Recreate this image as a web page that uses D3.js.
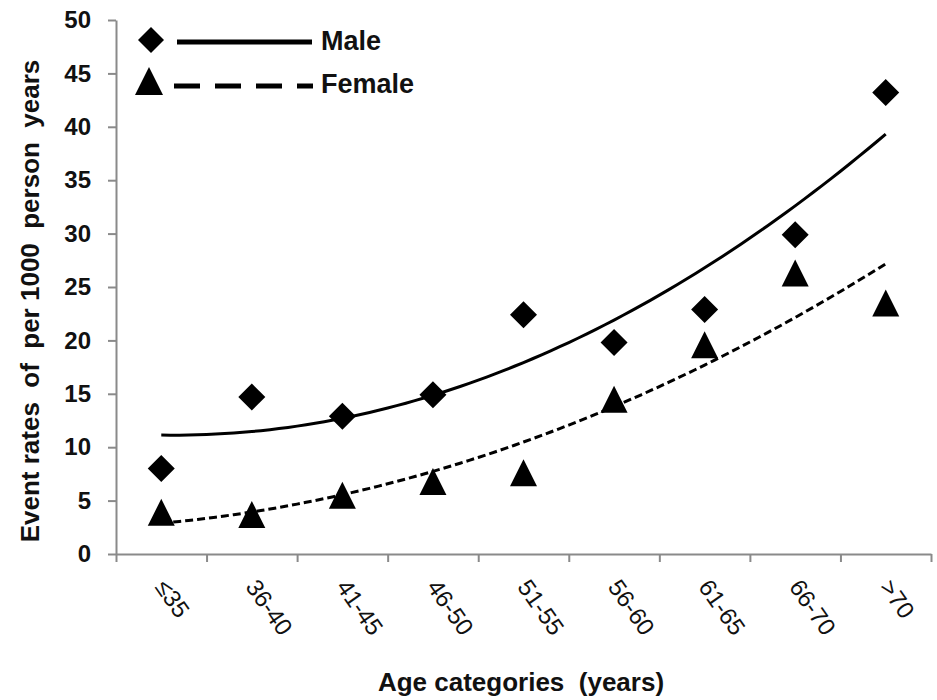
<!DOCTYPE html>
<html lang="en">

<head>
    <meta charset="UTF-8">
    <title>Event rates by age category</title>
    <script src="https://d3js.org/d3.v7.min.js"></script>
    <style>
        body { margin: 0; background: #fff; }
        text { font-family: "Liberation Sans", Arial, sans-serif; font-weight: bold; fill: #111; }
        .axis path, .axis line { stroke: #8a8a8a; stroke-width: 2; }
        .axis text { font-size: 24px; fill: #111; font-family: "Liberation Sans", Arial, sans-serif; font-weight: bold; }
        .cat { font-weight: normal; }
        .title { font-size: 26px; white-space: pre; }
    </style>
</head>

<body>
    <script>
        const w = 937; // width of the svg
        const h = 700; // height of the svg

        // data
        const categories = ["≤35", "36-40", "41-45", "46-50", "51-55", "56-60", "61-65", "66-70", ">70"];
        const maleRates = [8.0, 14.7, 12.9, 14.9, 22.4, 19.8, 22.9, 29.9, 43.2];
        const femaleRates = [3.9, 3.7, 5.5, 6.8, 7.6, 14.5, 19.6, 26.3, 23.5];
        const yTicks = [0, 5, 10, 15, 20, 25, 30, 35, 40, 45, 50];

        // scales: x runs over category slots, ticks sit on the slot borders
        const x = d3.scaleLinear()
            .domain([0, categories.length])
            .range([116, 931]);

        const y = d3.scaleLinear()
            .domain([0, 50])
            .range([554, 20]);

        const svg = d3.select("body")
            .append("svg")
            .attr("width", w)
            .attr("height", h);

        // 2nd order polynomial trendline (least squares), like the spreadsheet one
        function polyFit2(ys) {
            const xs = ys.map((d, i) => i);
            let s = [0, 0, 0, 0, 0], t = [0, 0, 0];
            xs.forEach((xv, i) => {
                for (let k = 0; k < 5; k++) s[k] += Math.pow(xv, k);
                for (let k = 0; k < 3; k++) t[k] += Math.pow(xv, k) * ys[i];
            });
            // solve the 3x3 normal equations with Cramer's rule
            const m = [[s[0], s[1], s[2]], [s[1], s[2], s[3]], [s[2], s[3], s[4]]];
            const det = a => a[0][0] * (a[1][1] * a[2][2] - a[1][2] * a[2][1])
                - a[0][1] * (a[1][0] * a[2][2] - a[1][2] * a[2][0])
                + a[0][2] * (a[1][0] * a[2][1] - a[1][1] * a[2][0]);
            const d = det(m);
            const coef = [0, 1, 2].map(c => det(m.map((row, r) => row.map((v, j) => j === c ? t[r] : v))) / d);
            return xv => coef[0] + coef[1] * xv + coef[2] * xv * xv;
        }

        function trendPoints(ys) {
            const f = polyFit2(ys);
            return d3.range(0, ys.length - 1 + 0.001, 0.1).map(i => [i + 0.5, f(i)]);
        }

        const line = d3.line()
            .x(d => x(d[0]))
            .y(d => y(d[1]));

        // marker shapes
        const diamond = {
            draw(ctx, size) {
                const r = Math.sqrt(size) / 2;
                ctx.moveTo(0, -r); ctx.lineTo(r, 0); ctx.lineTo(0, r); ctx.lineTo(-r, 0); ctx.closePath();
            }
        };
        const triangle = {
            draw(ctx, size) {
                const r = Math.sqrt(size) / 2;
                ctx.moveTo(0, -r); ctx.lineTo(r, r); ctx.lineTo(-r, r); ctx.closePath();
            }
        };

        // Add y-axis
        svg.append("g")
            .attr("class", "axis")
            .attr("transform", "translate(116,0)")
            .call(d3.axisLeft(y).tickValues(yTicks).tickSize(8).tickSizeOuter(0).tickPadding(17));

        // Add x-axis (unlabelled ticks on the category borders)
        svg.append("g")
            .attr("class", "axis")
            .attr("transform", "translate(0,554)")
            .call(d3.axisBottom(x).tickValues(d3.range(0, categories.length + 1)).tickSize(8).tickSizeOuter(0).tickFormat(""));

        // rotated category labels
        svg.selectAll(".cat")
            .data(categories)
            .join("text")
            .attr("class", "cat")
            .attr("transform", (d, i) => `translate(${x(i + 0.5) - 7},587) rotate(55)`)
            .attr("font-size", 24)
            .text(d => d);

        // trendlines
        svg.append("path")
            .attr("d", line(trendPoints(maleRates)))
            .attr("fill", "none")
            .attr("stroke", "#000")
            .attr("stroke-width", 3);

        svg.append("path")
            .attr("d", line(trendPoints(femaleRates)))
            .attr("fill", "none")
            .attr("stroke", "#000")
            .attr("stroke-width", 3)
            .attr("stroke-dasharray", "8,4");

        // markers
        svg.selectAll(".male")
            .data(maleRates)
            .join("path")
            .attr("class", "male")
            .attr("transform", (d, i) => `translate(${x(i + 0.5)},${y(d)})`)
            .attr("d", d3.symbol().type(diamond).size(27 * 27))
            .attr("fill", "#000");

        svg.selectAll(".female")
            .data(femaleRates)
            .join("path")
            .attr("class", "female")
            .attr("transform", (d, i) => `translate(${x(i + 0.5)},${y(d)})`)
            .attr("d", d3.symbol().type(triangle).size(27 * 27))
            .attr("fill", "#000");

        // legend
        const legend = svg.append("g");
        legend.append("path")
            .attr("transform", "translate(151,40)")
            .attr("d", d3.symbol().type(diamond).size(26 * 26));
        legend.append("line")
            .attr("x1", 177).attr("x2", 312).attr("y1", 42).attr("y2", 42)
            .attr("stroke", "#000").attr("stroke-width", 5);
        legend.append("text")
            .attr("x", 321).attr("y", 50)
            .attr("font-size", 27)
            .text("Male");

        legend.append("path")
            .attr("transform", "translate(149,81)")
            .attr("d", d3.symbol().type(triangle).size(28 * 28));
        legend.append("line")
            .attr("x1", 174).attr("x2", 313).attr("y1", 86).attr("y2", 86)
            .attr("stroke", "#000").attr("stroke-width", 5)
            .attr("stroke-dasharray", "26,15");
        legend.append("text")
            .attr("x", 321).attr("y", 93)
            .attr("font-size", 27)
            .text("Female");

        // axis titles
        svg.append("text")
            .attr("class", "title")
            .attr("x", 521).attr("y", 691)
            .attr("text-anchor", "middle")
            .text("Age categories  (years)");

        svg.append("text")
            .attr("class", "title")
            .attr("transform", "translate(39,301) rotate(-90)")
            .attr("text-anchor", "middle")
            .text("Event rates  of  per 1000  person  years");
    </script>
</body>

</html>
